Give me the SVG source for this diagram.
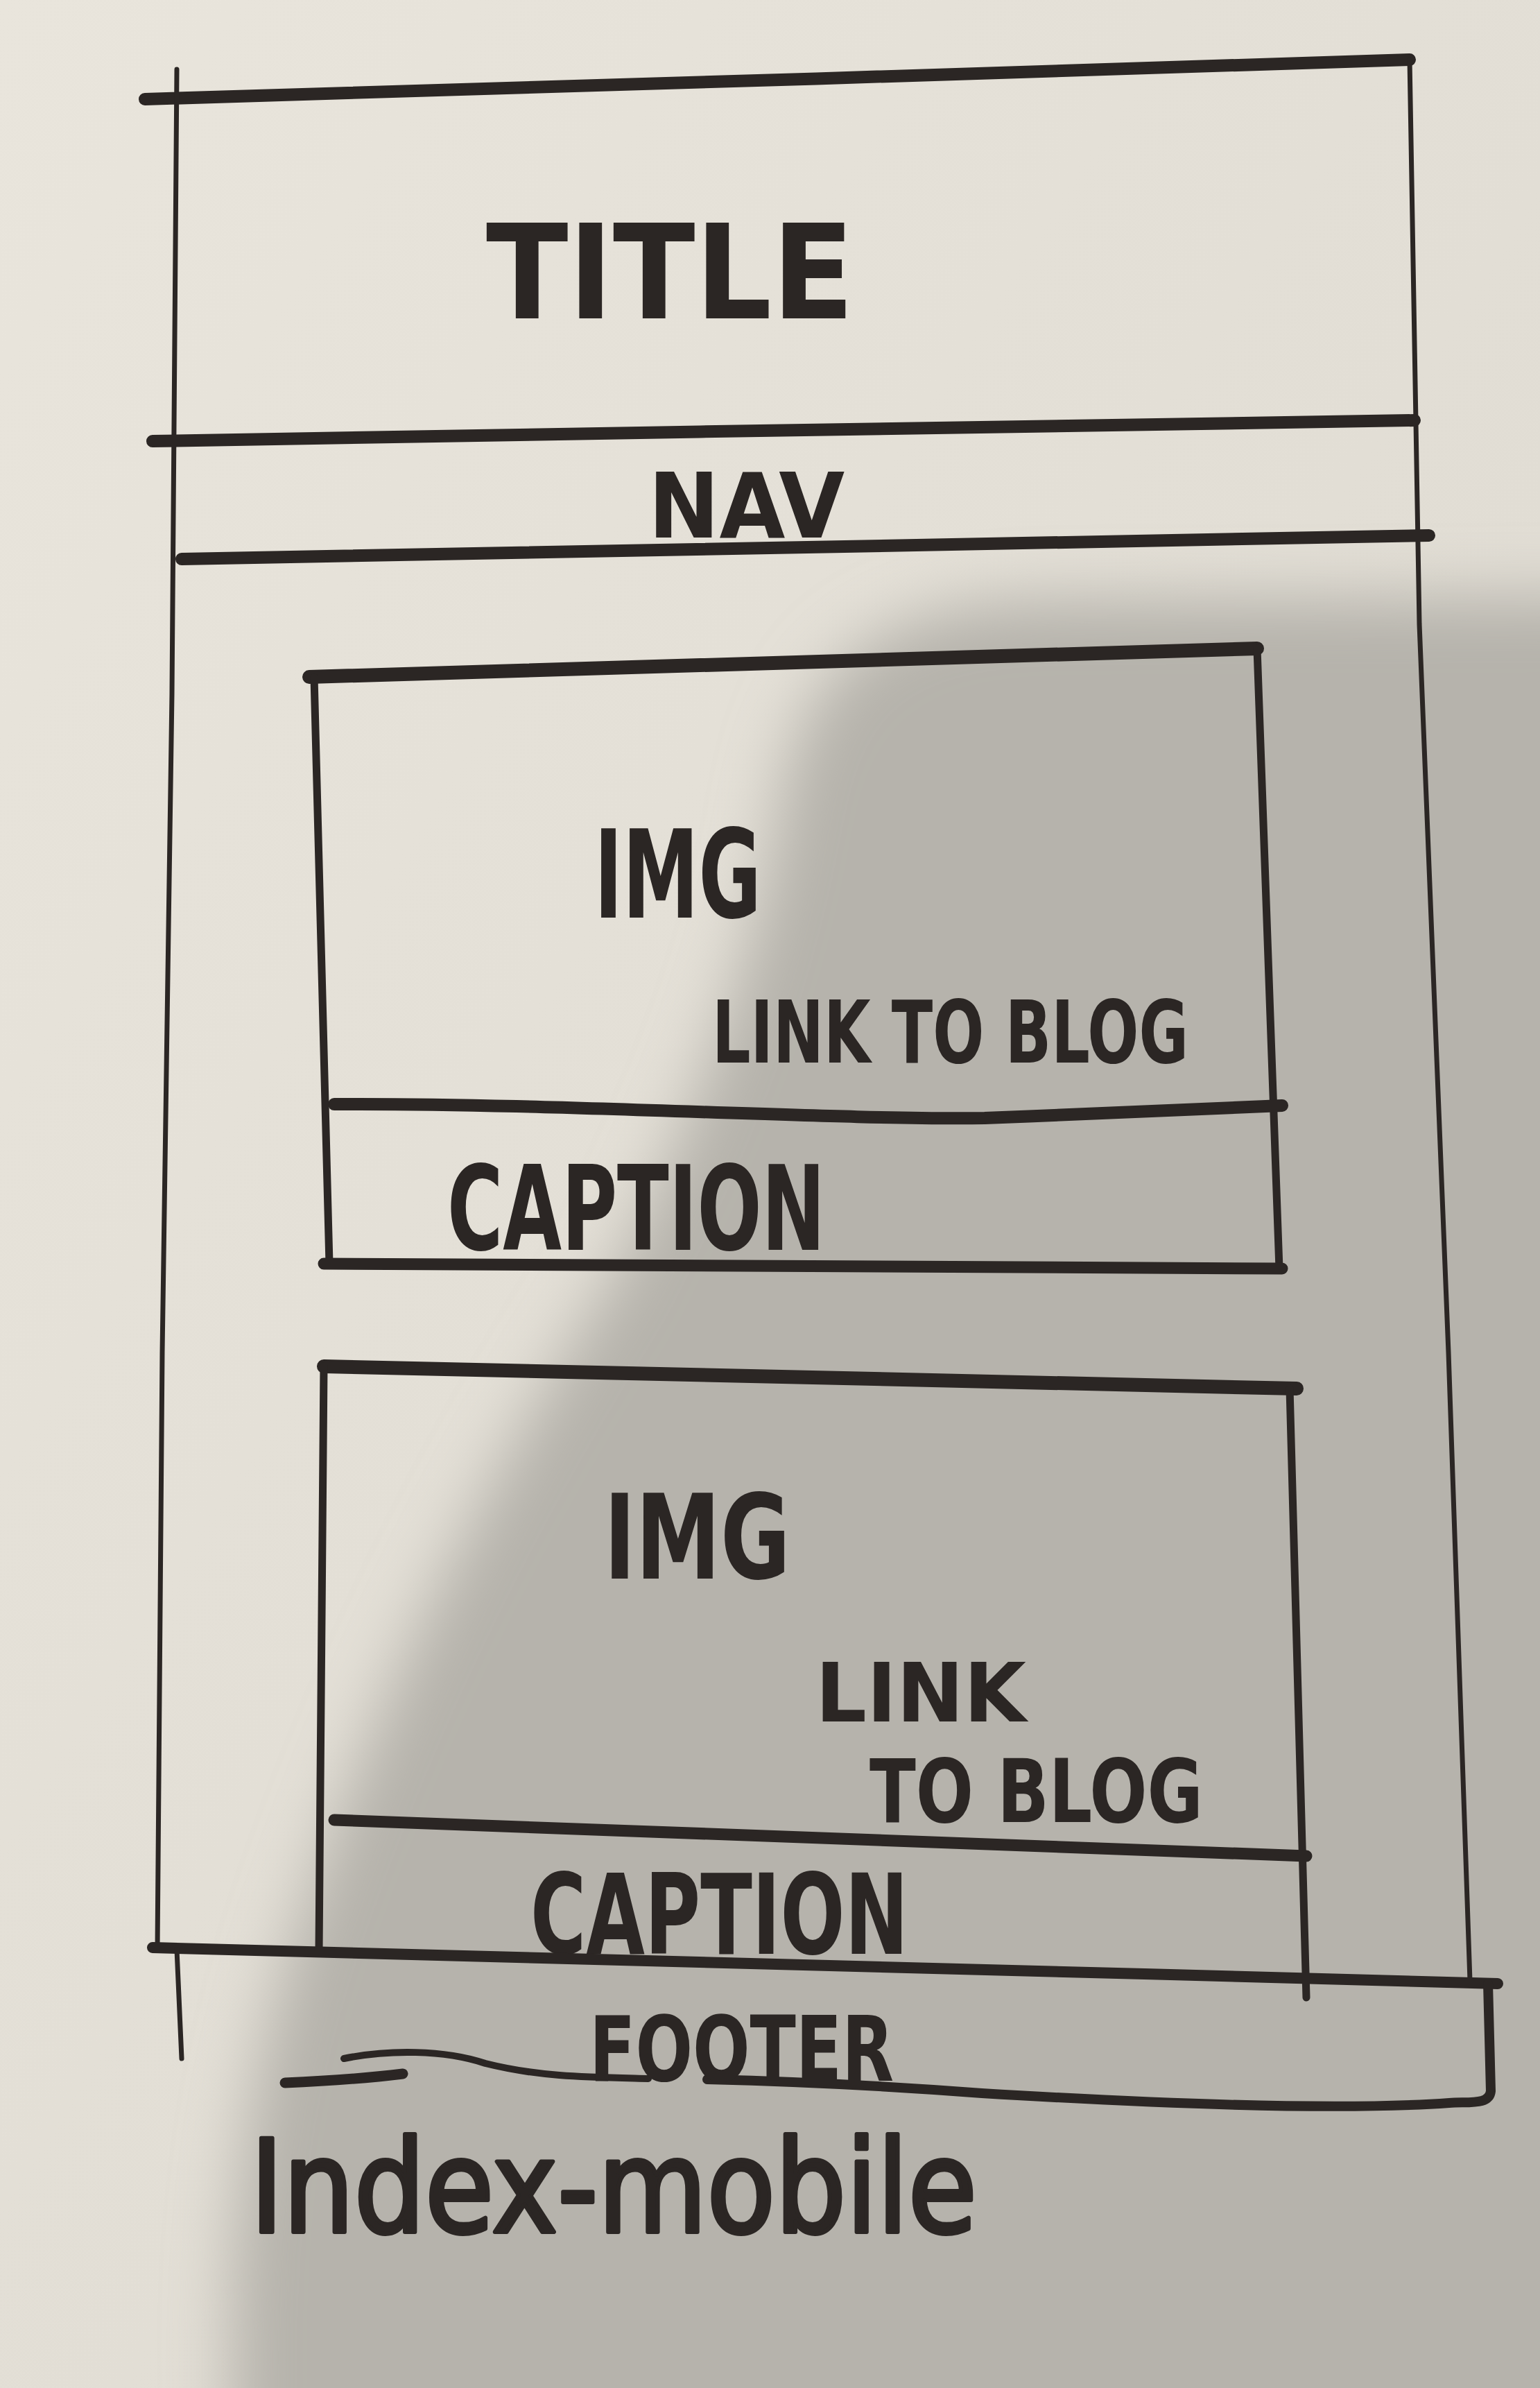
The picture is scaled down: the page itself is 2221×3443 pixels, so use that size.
<svg xmlns="http://www.w3.org/2000/svg" width="2221" height="3443" viewBox="0 0 2221 3443">
<defs>
<linearGradient id="paper" x1="0" y1="0" x2="1" y2="1">
<stop offset="0" stop-color="#e9e5dc"/>
<stop offset="1" stop-color="#dcd8cf"/>
</linearGradient>
<filter id="blur" filterUnits="userSpaceOnUse" x="-200" y="0" width="2700" height="3800"><feGaussianBlur stdDeviation="45"/></filter>
<style>
.ink{fill:none;stroke:#2b2624;stroke-linecap:round;stroke-linejoin:round}
.thin{stroke-width:7}
.mid{stroke-width:11}
.thick{stroke-width:18}
.lbl{font-family:"DejaVu Sans Condensed","DejaVu Sans","Liberation Sans",sans-serif;font-weight:bold;fill:#2b2624}
.hand{font-family:"DejaVu Sans Condensed","DejaVu Sans","Liberation Sans",sans-serif;font-weight:normal;fill:#2b2624;stroke:#2b2624;stroke-width:6;stroke-linejoin:round}
</style>
</defs>
<rect width="2221" height="3443" fill="url(#paper)"/>
<path d="M2500 860 L1500 865 C1260 875 1160 960 1125 1160 C1085 1400 1005 1600 880 1850 C720 2100 560 2400 440 2750 C370 2950 330 3150 335 3443 L335 3700 L2500 3700 Z" fill="#b6b3ac" filter="url(#blur)"/>

<g id="page-frame">
<path class="ink thick" d="M209 143 C700 128 1500 104 2033 86"/>
<path class="ink thin" d="M255 100 L248 1000 L234 1950 L227 2811"/>
<path class="ink thin" d="M2033 86 L2047 900 L2089 1950 L2120 2856"/>
</g>

<g id="title">
<path class="ink thick" d="M220 636 C800 625 1500 615 2040 606"/>
<text class="lbl" x="701" y="459" font-size="189" textLength="531" lengthAdjust="spacingAndGlyphs">TITLE</text>
</g>

<g id="nav">
<path class="ink thick" d="M262 806 C900 795 1500 782 2061 772"/>
<text class="lbl" x="935" y="775" font-size="130" textLength="283" lengthAdjust="spacingAndGlyphs">NAV</text>
</g>

<g id="card-1">
<path class="ink" stroke-width="20" d="M446 976 L1813 935"/>
<path class="ink mid" d="M453 976 L475 1822"/>
<path class="ink mid" d="M1813 935 L1845 1829"/>
<path class="ink" stroke-width="18" d="M482 1592 C800 1590 1200 1615 1420 1612 C1600 1605 1800 1595 1849 1594"/>
<path class="ink" stroke-width="17" d="M467 1822 L1849 1829"/>
<text class="lbl" x="857" y="1323" font-size="177" textLength="241" lengthAdjust="spacingAndGlyphs">IMG</text>
<text class="lbl" x="1027" y="1532" font-size="125" textLength="687" lengthAdjust="spacingAndGlyphs">LINK TO BLOG</text>
<text class="lbl" x="645" y="1802" font-size="170" textLength="545" lengthAdjust="spacingAndGlyphs">CAPTION</text>
</g>

<g id="card-2">
<path class="ink" stroke-width="20" d="M467 1970 L1870 2002"/>
<path class="ink mid" d="M467 1970 L460 2812"/>
<path class="ink mid" d="M1860 2002 L1884 2880"/>
<path class="ink" stroke-width="17" d="M482 2624 L1884 2676"/>
<text class="lbl" x="871" y="2276" font-size="170" textLength="269" lengthAdjust="spacingAndGlyphs">IMG</text>
<text class="lbl" x="1176" y="2482" font-size="118" textLength="304" lengthAdjust="spacingAndGlyphs">LINK</text>
<text class="lbl" x="1254" y="2627" font-size="126" textLength="481" lengthAdjust="spacingAndGlyphs">TO BLOG</text>
<text class="lbl" x="765" y="2817" font-size="160" textLength="545" lengthAdjust="spacingAndGlyphs">CAPTION</text>
</g>

<g id="footer">
<path class="ink" stroke-width="16" d="M220 2808 C800 2822 1500 2842 2160 2860"/>
<path class="ink thin" d="M255 2811 L262 2968"/>
<path class="ink" stroke-width="14" d="M2146 2860 L2150 3015 C2148 3035 2120 3030 2090 3032 C1950 3042 1700 3035 1416 3018 C1250 3005 1100 3000 1020 2998"/>
<path class="ink" stroke-width="10" d="M496 2968 C560 2955 640 2955 700 2975 C780 2995 850 2995 935 2997"/>
<path class="ink" stroke-width="15" d="M411 3003 C480 3000 540 2995 581 2990"/>
<text class="lbl" x="850" y="3000" font-size="130" textLength="439" lengthAdjust="spacingAndGlyphs">FOOTER</text>
</g>

<g id="connectors"/>

<g id="page-label">
<text class="hand" x="361" y="3218" font-size="185" textLength="1048" lengthAdjust="spacingAndGlyphs">Index-mobile</text>
</g>
</svg>
